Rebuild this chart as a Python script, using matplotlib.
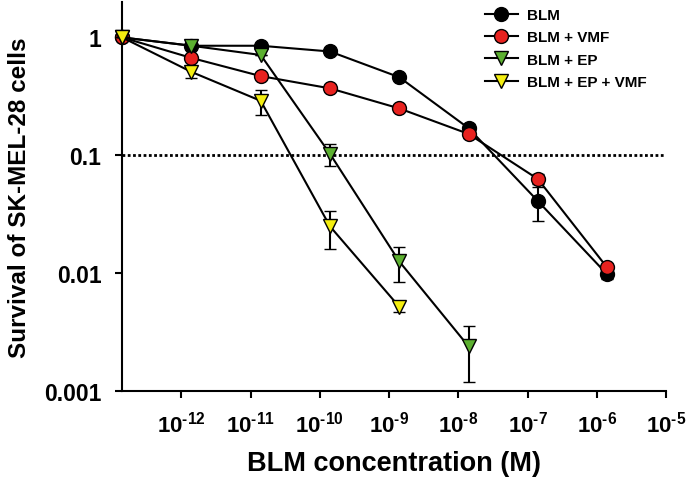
import numpy as np
import matplotlib
matplotlib.use("Agg")
import matplotlib.pyplot as plt
from matplotlib.lines import Line2D

plt.rcParams['font.family'] = ['Liberation Sans', 'DejaVu Sans']
plt.rcParams['font.weight'] = 'bold'
plt.rcParams['mathtext.fontset'] = 'custom'
plt.rcParams['mathtext.rm'] = 'Liberation Sans:bold'
plt.rcParams['mathtext.bf'] = 'Liberation Sans:bold'
plt.rcParams['mathtext.it'] = 'Liberation Sans:bold'

# concentrations (M); first point is the untreated control
conc = [1.4e-13, 1.4e-12, 1.4e-11, 1.4e-10, 1.4e-9, 1.4e-8, 1.4e-7, 1.4e-6]

blm = [1.0, 0.85, 0.85, 0.76, 0.46, 0.17, 0.041, 0.0098]
blm_err = [0.0, 0.0, 0.0, 0.0, 0.0, 0.015, 0.013, 0.0008]

blm_vmf = [1.0, 0.67, 0.47, 0.37, 0.25, 0.152, 0.063, 0.0112]
blm_vmf_err = [0.0, 0.0, 0.0, 0.0, 0.0, 0.012, 0.006, 0.0009]

ep_conc = conc[:6]
blm_ep = [1.0, 0.85, 0.71, 0.103, 0.0126, 0.0024]
blm_ep_err = [0.0, 0.0, 0.0, 0.022, 0.0042, 0.0012]

epv_conc = conc[:5]
blm_ep_vmf = [1.0, 0.51, 0.29, 0.025, 0.0052]
blm_ep_vmf_err = [0.0, 0.06, 0.07, 0.009, 0.0005]

xticks = [1e-12, 1e-11, 1e-10, 1e-9, 1e-8, 1e-7, 1e-6, 1e-5]
xexps = ['-12', '-11', '-10', '-9', '-8', '-7', '-6', '-5']
yticks = [0.001, 0.01, 0.1, 1]
ylabels = ['0.001', '0.01', '0.1', '1']

fig = plt.figure(figsize=(6.94, 4.89), dpi=100)
ax = fig.add_axes([0.176, 0.198, 0.784, 0.796])

series = [
    (conc, blm, blm_err, 'o', 'black', 'BLM'),
    (conc, blm_vmf, blm_vmf_err, 'o', '#e8221f', 'BLM + VMF'),
    (ep_conc, blm_ep, blm_ep_err, 'v', '#5cb030', 'BLM + EP'),
    (epv_conc, blm_ep_vmf, blm_ep_vmf_err, 'v', '#f4ee10', 'BLM + EP + VMF'),
]
handles = []
for i, (x, y, e, m, c, lab) in enumerate(series):
    ax.errorbar(x, y, yerr=e, fmt='-', color='black', marker=m, markerfacecolor=c,
                markeredgecolor='black', markeredgewidth=1.0, markersize=10,
                linewidth=1.5, elinewidth=1.5, capsize=4, capthick=1.5,
                zorder=3 + i, clip_on=False)
    handles.append(Line2D([], [], color='black', linewidth=1.5, marker=m,
                          markerfacecolor=c, markeredgecolor='black',
                          markersize=10, label=lab))

ax.axhline(0.1, color='black', linestyle=(0, (1, 0.9)), linewidth=2, zorder=1)

ax.set_xscale('log')
ax.set_yscale('log')
ax.set_xlim(1.4e-13, 1e-5)
ax.set_ylim(0.001, 2)
ax.set_xticks(xticks)
ax.set_xticklabels([r'$10^{\text{%s}}$' % e for e in xexps])
ax.set_yticks(yticks)
ax.set_yticklabels(ylabels)
ax.minorticks_off()
ax.tick_params(axis='both', width=1.5, length=5, direction='out')
ax.tick_params(axis='x', labelsize=16, pad=9)
ax.tick_params(axis='y', labelsize=16.5, pad=10)
for lbl in ax.get_yticklabels():
    lbl.set_fontweight('bold')

for s in ['top', 'right']:
    ax.spines[s].set_visible(False)
for s in ['left', 'bottom']:
    ax.spines[s].set_linewidth(1.5)

ax.set_xlabel('BLM concentration (M)', fontsize=19.5, fontweight='bold', labelpad=10)
ax.set_ylabel('Survival of SK-MEL-28 cells', fontsize=17.5, fontweight='bold', labelpad=9)

ax.legend(handles=handles, loc='upper right', bbox_to_anchor=(0.99, 1.02),
          frameon=False, prop={'size': 11, 'weight': 'bold'}, handlelength=2.2,
          handletextpad=0.6, labelspacing=0.55)

fig.savefig('out.png', dpi=100)
